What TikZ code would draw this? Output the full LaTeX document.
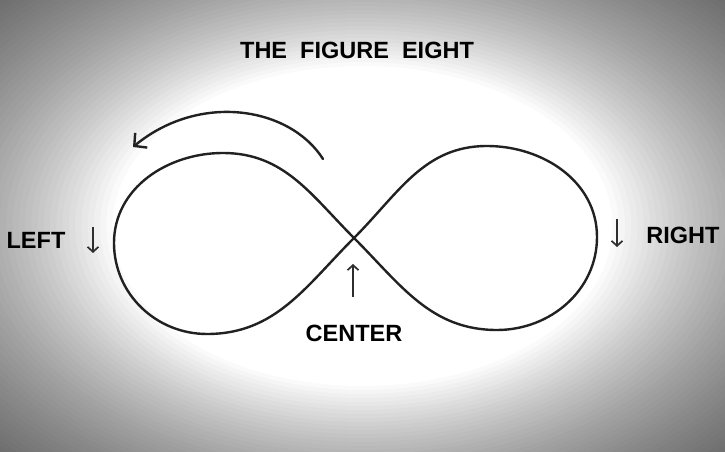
\documentclass[tikz,border=0pt]{standalone}
\usepackage{fontspec}
\setmainfont{Liberation Sans}
\usetikzlibrary{arrows.meta}

\begin{document}
\begin{tikzpicture}[x=1pt, y=1pt, every node/.style={font=\bfseries\fontsize{23.5}{28}\selectfont, text=black},
        eight/.style={line width=2.4pt, draw=black!87, line cap=round, line join=round},
        pointer/.style={line width=1.7pt, draw=black!82, -{Straight Barb[length=5pt, width=11pt]}}]
        \useasboundingbox (0,0) rectangle (725,452);
        \begin{scope}
        \clip (0,0) rectangle (725,452);
        \fill[black!57] (0,0) rectangle (725,452);
        \foreach \k in {42,...,0}{
                \pgfmathsetmacro{\shadeval}{100*(1-0.98^\k)}
                \fill[black!\shadeval] (362.5,226) ellipse [x radius={250*(1+0.025*\k)}, y radius={160*(1+0.025*\k)}];
        }
        \end{scope}
        \node (title) at (357,402) {THE\ \ FIGURE\ \ EIGHT};
        \coordinate (c) at (354,214);
        \coordinate (tl) at (223,299);
        \coordinate (l) at (114,209);
        \coordinate (bl) at (207,118);
        \coordinate (tr) at (487,306);
        \coordinate (r) at (597,215);
        \coordinate (br) at (497,122);
        \draw[eight] (c) to[out=135, in=0] (tl) to[out=180, in=90] (l) to[out=270, in=180] (bl) to[out=0, in=225] (c)
                to[out=45, in=180] (tr) to[out=0, in=90] (r) to[out=270, in=0] (br) to[out=180, in=315] (c);
        \coordinate (turn start) at (323,293);
        \coordinate (turn end) at (133,305);
        \draw[eight, -{Straight Barb[length=9pt, width=19pt]}] (turn start) .. controls (290,345) and (200,360) .. (turn end);
        \node (left) at (36,212) {LEFT};
        \node (right) at (683,217) {RIGHT};
        \node (center) at (354,119) {CENTER};
        \coordinate (left top) at (93,225);
        \coordinate (left bottom) at (93,199);
        \coordinate (right top) at (617,233);
        \coordinate (right bottom) at (617,205);
        \coordinate (center top) at (353,188);
        \coordinate (center bottom) at (353,155);
        \draw[pointer] (left top) -- (left bottom);
        \draw[pointer] (right top) -- (right bottom);
        \draw[pointer] (center bottom) -- (center top);
        \end{tikzpicture}
\end{document}
